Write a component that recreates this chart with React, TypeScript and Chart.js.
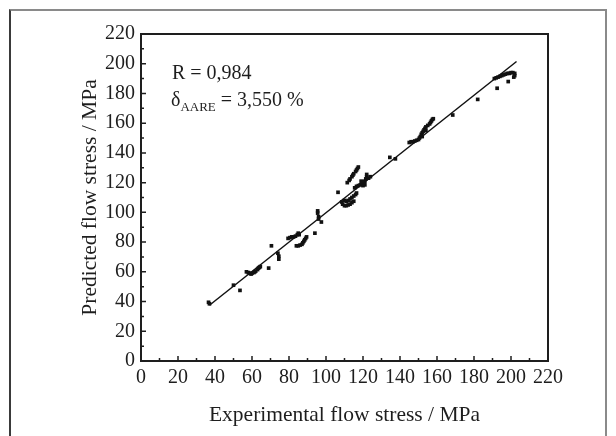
import React, { useEffect, useRef } from "react";
import { Chart, registerables } from "chart.js";

Chart.register(...registerables);

const expStress: number[] = [
  36.5, 37, 50, 53.5,
  57, 58, 59, 60, 61, 61.5, 62, 63, 63.5, 64, 64.5, 59.5,
  69, 70.5, 74, 74.5, 74.5,
  79.5, 80.5, 81.5, 82.5, 83.5, 84.5, 85, 85.5,
  84, 85, 86, 87, 87.5, 88, 88.5, 89, 89.5,
  94, 95.5, 95.5, 96, 96, 97.5, 106.5,
  108.5, 109, 110, 111, 112, 113, 114, 115, 110, 111, 112, 113, 114, 115, 116, 116.5,
  111.5, 112.5, 113, 114, 114.5, 115, 116, 116.5, 117, 117.5,
  115.5, 116.5, 117.5, 118.5, 119.5, 120, 120.5, 121, 121.5, 122, 122, 123, 124, 121, 119,
  134.5, 137.5,
  145, 146, 147, 148, 149, 150, 150.5, 151, 151.5, 152, 152.5, 153, 153.5, 154, 155, 156, 156.5, 157, 157.5, 158, 152, 154,
  168.5, 182, 192.5,
  191, 192, 193, 194, 195, 196, 197, 198, 199, 200, 201, 202, 202, 198.5, 201.5,
];

const predStress: number[] = [
  39.5, 38.5, 51, 47.5,
  60, 59.5, 59, 59, 59.5, 60, 60.5, 61.5, 62.5, 63, 63.5, 58.5,
  62.5, 77.5, 72.5, 70.5, 68.5,
  82.5, 83, 83.5, 83.5, 84, 85, 86, 85,
  77.5, 77.5, 78, 78.5, 79.5, 80.5, 81.5, 82.5, 83.5,
  86, 101, 99.5, 97, 95.5, 93.5, 113.5,
  107, 105.5, 104.5, 104.5, 105, 105.5, 106.5, 107.5, 108, 107.5, 108, 109, 110, 111, 112, 113,
  120, 121.5, 122.5, 124, 125, 126, 127.5, 128.5, 129.5, 130.5,
  116.5, 117.5, 118, 118.5, 119, 118, 120, 121, 122.5, 124, 125.5, 123, 124, 118.5, 121,
  137, 136,
  147, 147.5, 147.5, 148, 148.5, 149, 150, 151, 152.5, 153.5, 154.5, 155.5, 156.5, 157.5, 158.5, 159.5, 160.5, 161.5, 162.5, 163, 151, 155,
  165.5, 176, 183.5,
  190, 190.5, 191, 191.5, 192, 192.5, 193, 193.5, 193.5, 194, 194, 193.5, 192, 188, 191,
];

const fitX: number[] = [37, 203];
const fitY: number[] = [37.5, 201.5];

const tickValues: number[] = [0, 20, 40, 60, 80, 100, 120, 140, 160, 180, 200, 220];
const minorTickValues: number[] = [10, 30, 50, 70, 90, 110, 130, 150, 170, 190, 210];

const xTitle = "Experimental flow stress / MPa";
const yTitle = "Predicted flow stress / MPa";
const rText = "R = 0,984";
const deltaText = "δ";
const deltaSub = "AARE";
const deltaValue = " = 3,550 %";

const SERIF = '"Liberation Serif", "Times New Roman", serif';
const INK = "#1e1e1e";

const decorPlugin = {
  id: "decor",
  afterDraw(chart: any) {
    const { ctx, chartArea } = chart;
    const xs = chart.scales.x;
    const ys = chart.scales.y;
    ctx.save();
    ctx.strokeStyle = INK;
    ctx.lineWidth = 2;
    ctx.strokeRect(chartArea.left, chartArea.top, chartArea.right - chartArea.left, chartArea.bottom - chartArea.top);
    ctx.lineWidth = 1.5;
    ctx.beginPath();
    tickValues.forEach((v) => {
      const px = xs.getPixelForValue(v);
      ctx.moveTo(px, chartArea.bottom);
      ctx.lineTo(px, chartArea.bottom - 5);
      const py = ys.getPixelForValue(v);
      ctx.moveTo(chartArea.left, py);
      ctx.lineTo(chartArea.left + 5, py);
    });
    minorTickValues.forEach((v) => {
      const px = xs.getPixelForValue(v);
      ctx.moveTo(px, chartArea.bottom);
      ctx.lineTo(px, chartArea.bottom - 3);
      const py = ys.getPixelForValue(v);
      ctx.moveTo(chartArea.left, py);
      ctx.lineTo(chartArea.left + 3, py);
    });
    ctx.stroke();

    ctx.fillStyle = INK;
    ctx.font = `21.5px ${SERIF}`;
    ctx.textAlign = "center";
    ctx.textBaseline = "middle";
    ctx.fillText(xTitle, (chartArea.left + chartArea.right) / 2, 415);
    ctx.save();
    ctx.translate(90, (chartArea.top + chartArea.bottom) / 2);
    ctx.rotate(-Math.PI / 2);
    ctx.fillText(yTitle, 0, 0);
    ctx.restore();

    ctx.textAlign = "left";
    ctx.textBaseline = "alphabetic";
    ctx.font = `20px ${SERIF}`;
    ctx.fillText(rText, 172, 79);
    const baseY = 106;
    ctx.fillText(deltaText, 171, baseY);
    let x = 171 + ctx.measureText(deltaText).width;
    ctx.font = `13px ${SERIF}`;
    ctx.fillText(deltaSub, x, baseY + 5);
    x += ctx.measureText(deltaSub).width;
    ctx.font = `20px ${SERIF}`;
    ctx.fillText(deltaValue, x, baseY);
    ctx.restore();
  },
};

export default function App() {
  const canvasRef = useRef<HTMLCanvasElement | null>(null);

  useEffect(() => {
    document.body.style.margin = "0";
    const canvas = canvasRef.current;
    if (!canvas) return;
    const chart = new Chart(canvas, {
      type: "scatter",
      data: {
        datasets: [
          {
            type: "scatter",
            data: expStress.map((v, i) => ({ x: v, y: predStress[i] })),
            pointStyle: "rect",
            radius: 2.6,
            backgroundColor: "#111",
            borderColor: "#111",
            borderWidth: 0,
          } as any,
          {
            type: "line",
            data: fitX.map((v, i) => ({ x: v, y: fitY[i] })),
            borderColor: "#111",
            borderWidth: 1.5,
            pointRadius: 0,
            fill: false,
          } as any,
        ],
      },
      options: {
        responsive: false,
        animation: false,
        devicePixelRatio: 1,
        layout: { padding: { top: 34, right: 68, left: 0, bottom: 0 } },
        plugins: { legend: { display: false }, tooltip: { enabled: false } },
        scales: {
          x: {
            type: "linear",
            min: 0,
            max: 220,
            afterFit: (s: any) => {
              s.height = 75;
            },
            afterBuildTicks: (s: any) => {
              s.ticks = tickValues.map((v) => ({ value: v }));
            },
            ticks: { font: { family: SERIF, size: 20 }, color: INK, padding: 5, maxRotation: 0, autoSkip: false },
            grid: { display: false, drawTicks: false },
            border: { display: false },
          },
          y: {
            type: "linear",
            min: 0,
            max: 220,
            afterFit: (s: any) => {
              s.width = 141;
            },
            afterBuildTicks: (s: any) => {
              s.ticks = tickValues.map((v) => ({ value: v }));
            },
            ticks: { font: { family: SERIF, size: 20 }, color: INK, padding: 6, autoSkip: false },
            grid: { display: false, drawTicks: false },
            border: { display: false },
          },
        },
      } as any,
      plugins: [decorPlugin],
    });
    return () => chart.destroy();
  }, []);

  return (
    <div style={{ position: "fixed", left: 0, top: 0, width: 616, height: 436, background: "#fff", overflow: "hidden" }}>
      <div
        style={{
          position: "absolute",
          left: 9,
          top: 9,
          width: 598,
          height: 460,
          borderLeft: "2px solid #3a3a3a",
          borderTop: "2px solid #8a8a8a",
          borderRight: "2px solid #8a8a8a",
          boxSizing: "border-box",
        }}
      />
      <canvas ref={canvasRef} width={616} height={436} style={{ position: "absolute", left: 0, top: 0 }} />
    </div>
  );
}
